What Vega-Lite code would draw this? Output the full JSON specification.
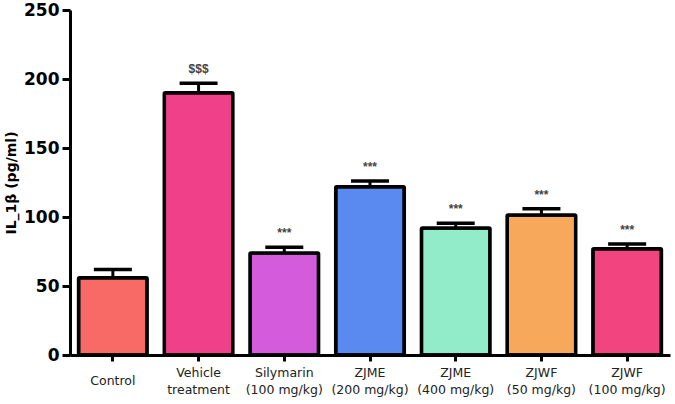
{
  "$schema": "https://vega.github.io/schema/vega-lite/v6.json",
  "width": 600,
  "height": 345,
  "autosize": "none",
  "padding": {"left": 70, "top": 10, "right": 5, "bottom": 49},
  "background": "white",
  "data": {"values": [
    {"group": "Control", "value": 56, "err": 6, "sig": "", "c": "#F86A66"},
    {"group": "Vehicle|treatment", "value": 190, "err": 7, "sig": "$$$", "c": "#F0408A"},
    {"group": "Silymarin|(100 mg/kg)", "value": 74, "err": 4, "sig": "***", "c": "#D45CDC"},
    {"group": "ZJME|(200 mg/kg)", "value": 122, "err": 4, "sig": "***", "c": "#5A8AF0"},
    {"group": "ZJME|(400 mg/kg)", "value": 92, "err": 3.5, "sig": "***", "c": "#92ECCA"},
    {"group": "ZJWF|(50 mg/kg)", "value": 101.5, "err": 4.5, "sig": "***", "c": "#F8A85A"},
    {"group": "ZJWF|(100 mg/kg)", "value": 77, "err": 3.5, "sig": "***", "c": "#F2447E"}
  ]},
  "encoding": {
    "x": {
      "field": "group", "type": "nominal", "sort": null,
      "scale": {"paddingInner": 0.2, "paddingOuter": 0.1},
      "axis": {
        "title": null, "labelAngle": 0,
        "labelExpr": "split(datum.label, '|')",
        "labelFont": "DejaVu Sans", "labelFontSize": 12.5, "labelColor": "#222",
        "labelPadding": {"condition": {"test": "datum.value === 'Control'", "value": 13}, "value": 5},
        "labelLineHeight": 17,
        "domainColor": "black", "domainWidth": 3,
        "tickColor": "black", "tickWidth": 3, "tickSize": 6,
        "grid": false
      }
    }
  },
  "layer": [
    {
      "mark": {"type": "rule", "color": "black", "strokeWidth": 3},
      "encoding": {
        "y": {"field": "value", "type": "quantitative"},
        "y2": {"field": "top"}
      },
      "transform": [{"calculate": "datum.value + datum.err", "as": "top"}]
    },
    {
      "transform": [{"calculate": "datum.value + datum.err", "as": "top"}],
      "mark": {"type": "tick", "color": "black", "opacity": 1, "thickness": 3.5, "size": 38, "orient": "horizontal"},
      "encoding": {"y": {"field": "top", "type": "quantitative"}}
    },
    {
      "mark": {"type": "bar", "stroke": "black", "strokeWidth": 3.5, "cornerRadius": 1},
      "encoding": {
        "y": {
          "field": "value", "type": "quantitative",
          "scale": {"domain": [0, 250], "nice": false},
          "axis": {
            "title": "IL_1β (pg/ml)", "values": [0, 50, 100, 150, 200, 250],
            "titleFont": "DejaVu Sans", "titleFontSize": 14, "titleFontWeight": "bold", "titleColor": "black",
            "titlePadding": 5,
            "labelFont": "DejaVu Sans", "labelFontSize": 17, "labelFontWeight": "bold", "labelColor": "black",
            "labelPadding": 3,
            "domainColor": "black", "domainWidth": 3,
            "tickColor": "black", "tickWidth": 3, "tickSize": 8,
            "grid": false
          }
        },
        "fill": {"field": "c", "type": "nominal", "scale": null, "legend": null}
      }
    },
    {
      "transform": [{"calculate": "datum.value + datum.err", "as": "top"}],
      "mark": {"type": "text", "dy": -7, "fontSize": 12, "fontWeight": "bold", "font": "Liberation Sans", "color": "#444", "baseline": "bottom"},
      "encoding": {
        "y": {"field": "top", "type": "quantitative"},
        "text": {"field": "sig"}
      }
    }
  ],
  "config": {"view": {"stroke": null}}
}
